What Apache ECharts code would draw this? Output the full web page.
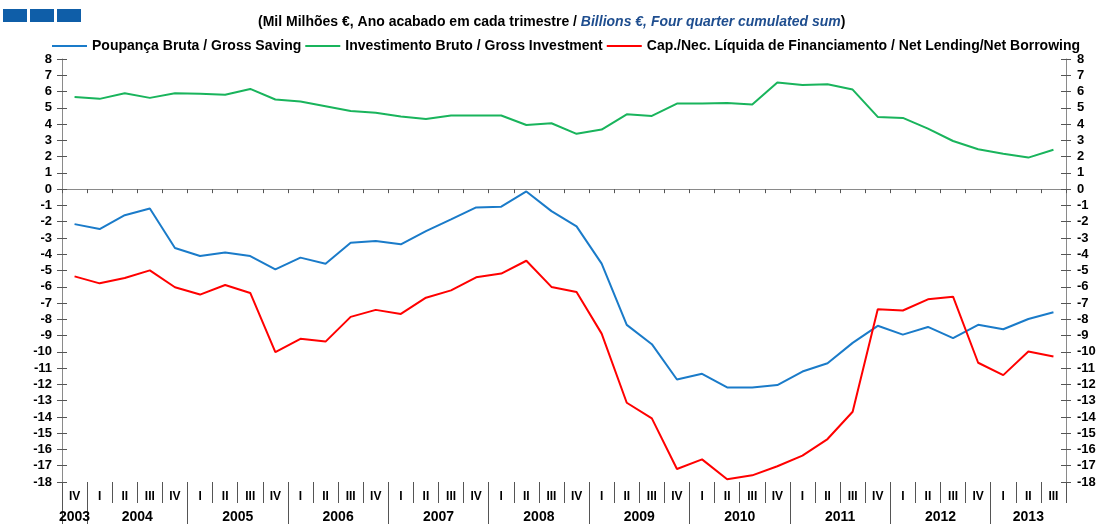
<!DOCTYPE html>
<html>
<head>
<meta charset="utf-8">
<script src="https://cdn.jsdelivr.net/npm/echarts@6/dist/echarts.min.js"></script>
<style>
  html, body { margin: 0; padding: 0; background: #ffffff; }
  #chart { width: 1107px; height: 524px; }
</style>
</head>
<body>
<div id="chart"></div>
<script>
// Quarter of each observation and the year it belongs to
const quarterLabels = [
  'IV',
  'I', 'II', 'III', 'IV',
  'I', 'II', 'III', 'IV',
  'I', 'II', 'III', 'IV',
  'I', 'II', 'III', 'IV',
  'I', 'II', 'III', 'IV',
  'I', 'II', 'III', 'IV',
  'I', 'II', 'III', 'IV',
  'I', 'II', 'III', 'IV',
  'I', 'II', 'III', 'IV',
  'I', 'II', 'III'
];
const yearLabels = [
  '2003',
  '2004', '2004', '2004', '2004',
  '2005', '2005', '2005', '2005',
  '2006', '2006', '2006', '2006',
  '2007', '2007', '2007', '2007',
  '2008', '2008', '2008', '2008',
  '2009', '2009', '2009', '2009',
  '2010', '2010', '2010', '2010',
  '2011', '2011', '2011', '2011',
  '2012', '2012', '2012', '2012',
  '2013', '2013', '2013'
];

// Four-quarter cumulated sums, billions of euro
const grossSaving = [
  -2.15, -2.45, -1.60, -1.19, -3.62, -4.11, -3.89, -4.11, -4.93, -4.21,
  -4.58, -3.29, -3.19, -3.39, -2.58, -1.86, -1.12, -1.08, -0.14, -1.35,
  -2.29, -4.58, -8.34, -9.53, -11.70, -11.35, -12.19, -12.19, -12.04, -11.21,
  -10.70, -9.45, -8.40, -8.94, -8.47, -9.16, -8.34, -8.61, -7.98, -7.57
];
const grossInvestment = [
  5.67, 5.55, 5.90, 5.61, 5.90, 5.86, 5.80, 6.16, 5.51, 5.39,
  5.10, 4.80, 4.69, 4.47, 4.31, 4.53, 4.53, 4.53, 3.94, 4.05,
  3.40, 3.66, 4.60, 4.50, 5.26, 5.26, 5.29, 5.20, 6.56, 6.40,
  6.45, 6.12, 4.44, 4.38, 3.72, 2.96, 2.45, 2.18, 1.94, 2.42
];
const netLending = [
  -5.36, -5.79, -5.46, -4.99, -6.03, -6.48, -5.89, -6.38, -10.02, -9.20,
  -9.37, -7.85, -7.42, -7.67, -6.67, -6.22, -5.42, -5.19, -4.40, -6.01,
  -6.32, -8.88, -13.13, -14.09, -17.20, -16.61, -17.83, -17.59, -17.03, -16.38,
  -15.36, -13.68, -7.38, -7.46, -6.77, -6.61, -10.67, -11.43, -9.98, -10.29
];

const seriesNames = [
  'Poupança Bruta / Gross Saving',
  'Investimento Bruto / Gross Investment',
  'Cap./Nec. Líquida de Financiamento / Net Lending/Net Borrowing'
];
const yMin = -18, yMax = 8, yStep = 1;

// Year groups: where each year starts and where its label sits
const yearStarts = [];
const yearCenters = [];
const yearAt = {};
let start = 0;
for (let i = 1; i <= yearLabels.length; i++) {
  if (i === yearLabels.length || yearLabels[i] !== yearLabels[start]) {
    yearStarts.push(start);
    const c = (start + i) / 2;
    yearCenters.push(c);
    yearAt[c] = yearLabels[start];
    start = i;
  }
}

const FONT = "'Liberation Sans', Arial, sans-serif";
const axisGrey = '#8a8a8a';
const tickDark = '#555555';

const valueAxisBase = {
  type: 'value', min: yMin, max: yMax, interval: yStep,
  splitLine: { show: false }
};

const chart = echarts.init(document.getElementById('chart'), null, { renderer: 'canvas' });
chart.setOption({
  animation: false,
  backgroundColor: '#ffffff',
  title: {
    left: 253, top: 10,
    text: '{a|(Mil Milhões €, Ano acabado em cada trimestre / }{b|Billions €, Four quarter cumulated sum}{a|)}',
    textStyle: {
      rich: {
        a: { fontFamily: FONT, fontSize: 14, fontWeight: 'bold', color: '#000000' },
        b: { fontFamily: FONT, fontSize: 14, fontWeight: 'bold', fontStyle: 'italic', color: '#1f4e8f' }
      }
    }
  },
  legend: {
    left: 47, top: 34,
    icon: 'rect',
    itemWidth: 35, itemHeight: 2, itemGap: 4,
    textStyle: { fontFamily: FONT, fontSize: 14, fontWeight: 'bold', color: '#000000' },
    data: seriesNames
  },
  graphic: [0, 1, 2].map(k => ({
    type: 'rect', left: 3 + k * 27, top: 9,
    shape: { width: 24, height: 13 },
    style: { fill: '#0f5ea8' }
  })),
  grid: { left: 62, right: 41, top: 59, bottom: 41, containLabel: false },
  xAxis: [
    {
      // zero line with small ticks between quarters
      type: 'category', data: quarterLabels, boundaryGap: true,
      axisLine: { onZero: true, onZeroAxisIndex: 0, lineStyle: { color: axisGrey, width: 1 } },
      axisTick: { show: true, length: 4, interval: 0, lineStyle: { color: tickDark } },
      axisLabel: { show: false }
    },
    {
      // quarter labels along the bottom
      type: 'category', data: quarterLabels, boundaryGap: true, position: 'bottom',
      axisLine: { show: false, onZero: false },
      axisTick: { show: true, length: 21, interval: 0, lineStyle: { color: tickDark } },
      axisLabel: {
        interval: 0, margin: 9,
        fontFamily: FONT, fontSize: 12, fontWeight: 'bold', color: '#000000'
      }
    },
    {
      // year labels and year separators
      type: 'value', min: 0, max: quarterLabels.length, interval: 0.5, position: 'bottom',
      axisLine: { show: false, onZero: false },
      splitLine: { show: false },
      axisTick: { show: true, length: 42, customValues: yearStarts, lineStyle: { color: tickDark } },
      axisLabel: {
        customValues: yearCenters, margin: 28,
        fontFamily: FONT, fontSize: 14, fontWeight: 'bold', color: '#000000',
        formatter: v => yearAt[v] || ''
      }
    }
  ],
  yAxis: [
    Object.assign({}, valueAxisBase, {
      position: 'left',
      axisLine: { show: true, onZero: false, lineStyle: { color: axisGrey } },
      axisTick: { show: true, length: 5, lineStyle: { color: tickDark } },
      axisLabel: { margin: 10, fontFamily: FONT, fontSize: 13, fontWeight: 'bold', color: '#000000' }
    }),
    Object.assign({}, valueAxisBase, {
      position: 'left',
      axisLine: { show: false, onZero: false },
      axisTick: { show: true, inside: true, length: 5, lineStyle: { color: tickDark } },
      axisLabel: { show: false }
    }),
    Object.assign({}, valueAxisBase, {
      position: 'right',
      axisLine: { show: true, onZero: false, lineStyle: { color: axisGrey } },
      axisTick: { show: true, length: 5, lineStyle: { color: tickDark } },
      axisLabel: { margin: 11, fontFamily: FONT, fontSize: 13, fontWeight: 'bold', color: '#000000' }
    }),
    Object.assign({}, valueAxisBase, {
      position: 'right',
      axisLine: { show: false, onZero: false },
      axisTick: { show: true, inside: true, length: 5, lineStyle: { color: tickDark } },
      axisLabel: { show: false }
    })
  ],
  series: [
    { name: seriesNames[0], data: grossSaving, color: '#1a7bc9' },
    { name: seriesNames[1], data: grossInvestment, color: '#19b45c' },
    { name: seriesNames[2], data: netLending, color: '#ff0000' }
  ].map(s => ({
    type: 'line', name: s.name, data: s.data,
    xAxisIndex: 0, yAxisIndex: 0,
    symbol: 'none', smooth: false,
    itemStyle: { color: s.color },
    lineStyle: { color: s.color, width: 2 }
  }))
});
</script>
</body>
</html>
